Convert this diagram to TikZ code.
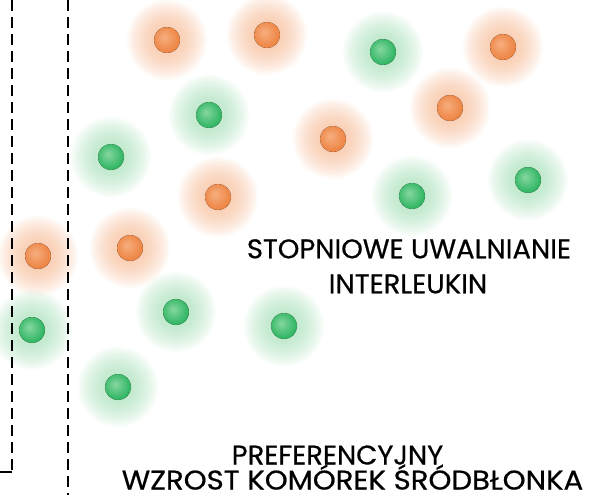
\documentclass[tikz,border=0pt]{standalone}
\usepackage{fontspec}
\newfontfamily\labelfont{Poppins}[FakeBold=0.6]
\definecolor{oglow}{HTML}{F6B58C}
\definecolor{gglow}{HTML}{9FDDB2}
\definecolor{olight}{HTML}{F6AE80}
\definecolor{odark}{HTML}{EC7C36}
\definecolor{glight}{HTML}{86D7A1}
\definecolor{gdark}{HTML}{1DAE55}
\pgfdeclareradialshading{dotO}{\pgfpoint{-6bp}{6bp}}{color(0bp)=(olight); color(32bp)=(odark); color(50bp)=(odark)}
\pgfdeclareradialshading{dotG}{\pgfpoint{-6bp}{6bp}}{color(0bp)=(glight); color(32bp)=(gdark); color(50bp)=(gdark)}
\tikzset{
  dashline/.style={black, line width=1.8pt, dash pattern=on 11pt off 6pt},
  label/.style={font=\labelfont\fontsize{27}{30}\selectfont, inner sep=0pt, anchor=base, text depth=0pt},
  glowring/.style={fill opacity=0.07}
}
\newcommand{\myOglow}[2]{%
  \foreach \r in {40,38,...,12}{\fill[oglow, glowring] (#1,#2) circle (\r pt);}}
\newcommand{\myGglow}[2]{%
  \foreach \r in {40,38,...,12}{\fill[gglow, glowring] (#1,#2) circle (\r pt);}}
\newcommand{\myOdot}[2]{%
  \fill[shading=dotO] (#1,#2) circle (13pt);}
\newcommand{\myGdot}[2]{%
  \fill[shading=dotG] (#1,#2) circle (13pt);}
\begin{document}
\begin{tikzpicture}[x=1pt,y=-1pt]
\useasboundingbox (0,0) rectangle (589,495);
% glows
\foreach \x/\y in {167/40,267/35,503/47,450/108,333/139,218/197,130/248,38/256}{\myOglow{\x}{\y}}
\foreach \x/\y in {383/52,209/115,111/157,412/196,528/180,176/312,284/326,118/387,32/330}{\myGglow{\x}{\y}}
% dashed lines
\coordinate (l1t) at (12,0);
\coordinate (l1b) at (12,472);
\coordinate (l0) at (0,472);
\coordinate (l2t) at (68,0);
\coordinate (l2b) at (68,495);
\draw[dashline] (l1t) -- (l1b);
\draw[black, line width=1.8pt] (l1b) -- (l0);
\draw[dashline] (l2t) -- (l2b);
% dots
\foreach \x/\y in {167/40,267/35,503/47,450/108,333/139,218/197,130/248,38/256}{\myOdot{\x}{\y}}
\foreach \x/\y in {383/52,209/115,111/157,412/196,528/180,176/312,284/326,118/387,32/330}{\myGdot{\x}{\y}}
% labels
\node[label] (t1a) at (409,258.3) {\scalebox{1.015}[1]{STOPNIOWE UWALNIANIE}};
\node[label] (t1b) at (408,293.3) {\scalebox{1.015}[1]{INTERLEUKIN}};
\node[label] (t2a) at (337.5,464.5) {\scalebox{1.015}[1]{PREFERENCYJNY}};
\node[label] (t2b) at (352.5,489.5) {\scalebox{1.08}[1]{WZROST KOMÓREK ŚRÓDBŁONKA}};
\end{tikzpicture}
\end{document}
